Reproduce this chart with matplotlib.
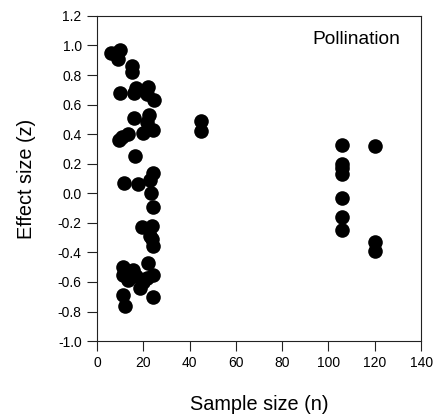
import numpy as np
import matplotlib
matplotlib.use("Agg")
import matplotlib.pyplot as plt

plt.rcParams['font.family'] = ['Liberation Sans', 'DejaVu Sans']

# sample size (n) and effect size (z)
sample_size = [6, 8, 10, 9, 15, 15,
               10, 16, 17, 22, 21.5, 24.5,
               16, 22.5, 21.5, 20, 24.3, 13.5, 9.5, 11,
               16.3, 11.7, 17.8, 24.3, 22.9, 23.2, 24,
               19.3, 23.6, 22.9, 23.6, 24,
               11.4, 22.2, 11.4, 24.3, 15.7, 13.5, 20, 18.6, 17, 21.5,
               11.4, 24.3, 12.1,
               45, 45,
               106, 106, 106, 106, 106, 106, 106,
               120, 120, 120]
effect_size = [0.95, 0.95, 0.97, 0.91, 0.86, 0.82,
               0.68, 0.68, 0.71, 0.72, 0.67, 0.63,
               0.51, 0.53, 0.48, 0.41, 0.43, 0.40, 0.36, 0.38,
               0.25, 0.07, 0.06, 0.14, 0.09, 0.00, -0.09,
               -0.23, -0.22, -0.29, -0.31, -0.36,
               -0.50, -0.47, -0.55, -0.55, -0.52, -0.59, -0.60, -0.64, -0.56, -0.57,
               -0.69, -0.70, -0.76,
               0.49, 0.42,
               0.33, 0.20, 0.17, 0.13, -0.03, -0.16, -0.25,
               0.32, -0.33, -0.39]

x_ticks = [0, 20, 40, 60, 80, 100, 120, 140]
y_ticks = [-1.0, -0.8, -0.6, -0.4, -0.2, 0.0, 0.2, 0.4, 0.6, 0.8, 1.0, 1.2]
y_tick_labels = ["-1.0", "-0.8", "-0.6", "-0.4", "-0.2", "0.0",
                 "0.2", "0.4", "0.6", "0.8", "1.0", "1.2"]

fig = plt.figure(figsize=(4.4, 4.19), dpi=100)
ax = fig.add_axes([0.2205, 0.186, 0.7365, 0.776])

ax.plot(sample_size, effect_size, 'o', color='black', markersize=10.5, markeredgewidth=0)

ax.set_xlim(0, 140)
ax.set_ylim(-1.0, 1.2)
ax.set_xticks(x_ticks)
ax.set_yticks(y_ticks)
ax.set_yticklabels(y_tick_labels)
for s in ax.spines.values():
    s.set_linewidth(0.8)
    s.set_color('#222222')
ax.tick_params(direction='out', length=7, width=0.8, pad=4, labelsize=10, color='#222222')

ax.set_xlabel("Sample size (n)", fontsize=14.3, labelpad=18)
ax.set_ylabel("Effect size (z)", fontsize=14.3, labelpad=16)
ax.text(0.935, 0.926, "Pollination", transform=ax.transAxes, ha='right', va='center', fontsize=13.8)

fig.savefig("out.png", dpi=100)
